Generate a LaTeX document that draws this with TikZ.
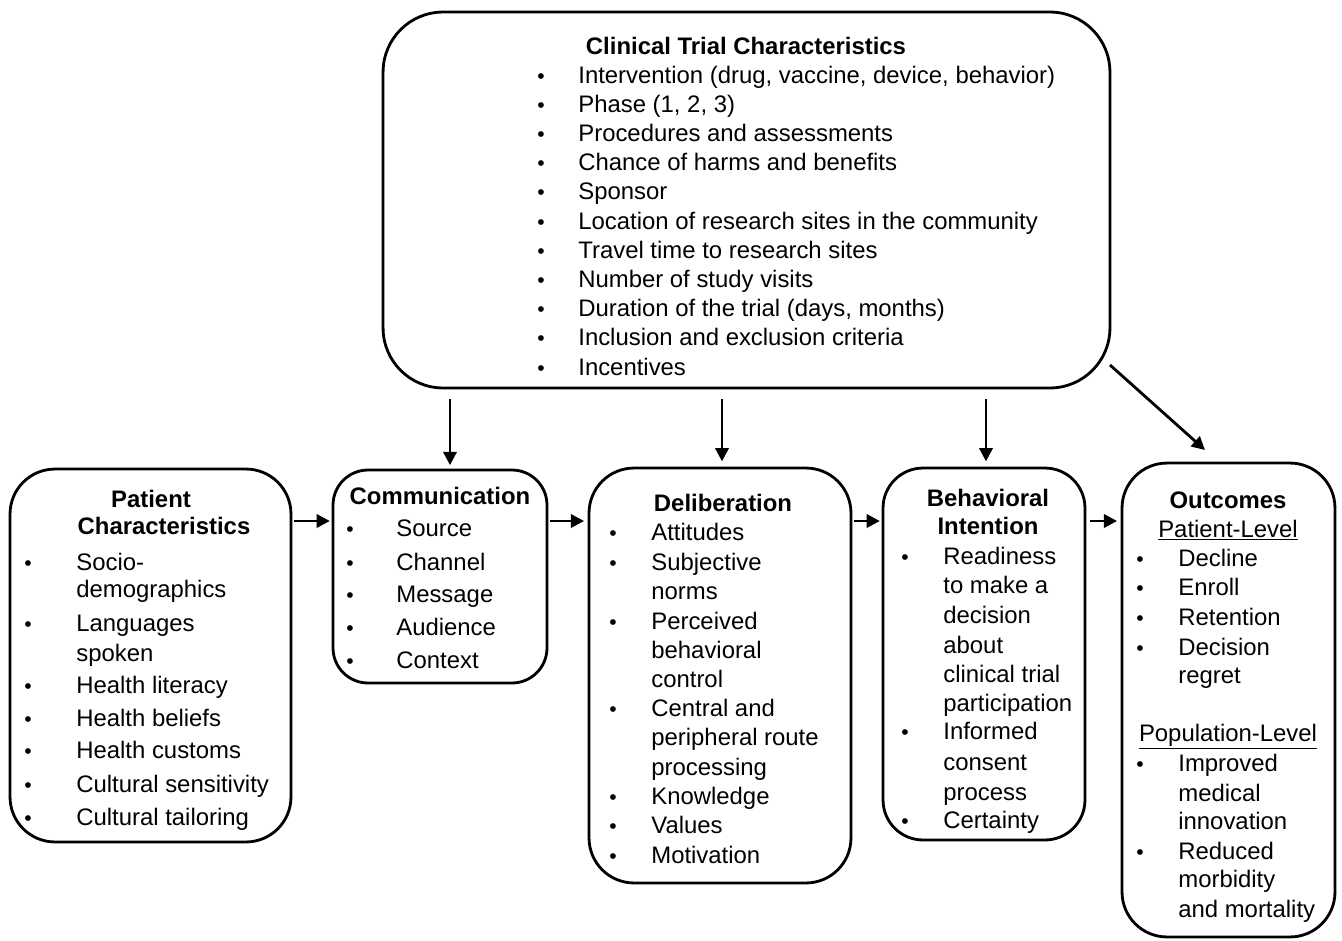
\documentclass[tikz,border=0pt]{standalone}
\usepackage{fontspec}
\setmainfont{Liberation Sans}
\usetikzlibrary{arrows.meta}

\begin{document}
\begin{tikzpicture}[x=0.02cm,y=-0.02cm,
        box/.style={draw,line width=1.6pt,inner sep=0pt},
        txt/.style={anchor=base west,inner sep=0pt,yshift=-0.04cm,font=\fontsize{13.6}{16}\selectfont},
        ttl/.style={anchor=base,inner sep=0pt,yshift=-0.04cm,font=\fontsize{13.6}{16}\selectfont\bfseries},
        bul/.style={anchor=base,inner sep=0pt,yshift=-0.04cm,font=\fontsize{12}{14}\selectfont},
        arr/.style={line width=1.6pt,-{Triangle[length=7.5pt,width=7.5pt]}}]
        \useasboundingbox (0,0) rectangle (1342,940);

        % boxes
        \node[box,rounded corners=12mm,minimum width=14.54cm,minimum height=7.52cm] (ct) at (746.5,200) {};
        \node[box,rounded corners=9mm,minimum width=5.62cm,minimum height=7.46cm] (pat) at (150.5,655.5) {};
        \node[box,rounded corners=7mm,minimum width=4.28cm,minimum height=4.26cm] (com) at (440,576.5) {};
        \node[box,rounded corners=9mm,minimum width=5.24cm,minimum height=8.3cm] (del) at (720,675.5) {};
        \node[box,rounded corners=8mm,minimum width=4.04cm,minimum height=7.44cm] (beh) at (984,654) {};
        \node[box,rounded corners=9mm,minimum width=4.26cm,minimum height=9.48cm] (out) at (1228.5,700) {};

        % clinical trial characteristics
        \node[ttl] (cttl) at (746,52) {Clinical Trial Characteristics};
        \foreach \t [count=\i] in {{Intervention (drug, vaccine, device, behavior)}, {Phase (1, 2, 3)},
            Procedures and assessments, Chance of harms and benefits, Sponsor,
            Location of research sites in the community, Travel time to research sites,
            Number of study visits, {Duration of the trial (days, months)},
            Inclusion and exclusion criteria, Incentives} {
            \node[bul] (ctb\i) at (541,81+29.2*\i-29.2) {\textbullet};
            \node[txt] (ct\i) at (578,81+29.2*\i-29.2) {\t};
        }

        % patient characteristics
        \node[ttl] (pttl1) at (151,505) {Patient};
        \node[ttl] (pttl2) at (164,532) {Characteristics};
        \foreach \y/\t in {568/Socio-, 595/demographics, 629/Languages, 659/spoken,
            691/Health literacy, 724/Health beliefs, 756/Health customs,
            790/Cultural sensitivity, 823/Cultural tailoring} {
            \node[txt] (pt\y) at (76,\y) {\t};
        }
        \foreach \y in {568,629,691,724,756,790,823} {
            \node[bul] (pb\y) at (28,\y) {\textbullet};
        }

        % communication
        \node[ttl] (cmttl) at (440,502) {Communication};
        \foreach \y/\t in {534/Source, 568/Channel, 600/Message, 633/Audience, 666/Context} {
            \node[bul] (cmb\y) at (350,\y) {\textbullet};
            \node[txt] (cm\y) at (396,\y) {\t};
        }

        % deliberation
        \node[ttl] (dlttl) at (723,509) {Deliberation};
        \foreach \y/\t in {538/Attitudes, 568/Subjective, 597/norms, 627/Perceived,
            656/behavioral, 685/control, 714/Central and, 743/peripheral route,
            773/processing, 802/Knowledge, 831/Values, 861/Motivation} {
            \node[txt] (dl\y) at (651,\y) {\t};
        }
        \foreach \y in {538,568,627,714,802,831,861} {
            \node[bul] (dlb\y) at (613,\y) {\textbullet};
        }

        % behavioral intention
        \node[ttl] (bittl1) at (988,504) {Behavioral};
        \node[ttl] (bittl2) at (988,532) {Intention};
        \foreach \y/\t in {562/Readiness, 591/to make a, 621/decision, 651/about,
            680/clinical trial, 709/participation, 737/Informed, 768/consent,
            798/process, 826/Certainty} {
            \node[txt] (bi\y) at (943,\y) {\t};
        }
        \foreach \y in {562,737,826} {
            \node[bul] (bib\y) at (905,\y) {\textbullet};
        }

        % outcomes
        \node[ttl] (octtl) at (1228,506) {Outcomes};
        \node[txt,anchor=base] (ocpat) at (1228,535) {\underline{Patient-Level}};
        \node[txt,anchor=base] (ocpop) at (1228,739) {\underline{Population-Level}};
        \foreach \y/\t in {564/Decline, 593/Enroll, 623/Retention, 653/Decision, 681/regret,
            769/Improved, 799/medical, 827/innovation, 857/Reduced, 885/morbidity,
            915/and mortality} {
            \node[txt] (oc\y) at (1178,\y) {\t};
        }
        \foreach \y in {564,593,623,653,769,857} {
            \node[bul] (ocb\y) at (1140,\y) {\textbullet};
        }

        % arrows
        \coordinate (row) at (0,521);
        \draw[arr,shorten <=1pt,shorten >=1pt] (pat.east |- row) -- (com.west |- row);
        \draw[arr,shorten <=1pt,shorten >=2pt] (com.east |- row) -- (del.west |- row);
        \draw[arr,shorten <=1pt,shorten >=1pt] (del.east |- row) -- (beh.west |- row);
        \draw[arr,shorten <=2pt,shorten >=2pt] (beh.east |- row) -- (out.west |- row);

        \coordinate (c1) at (450,0);
        \coordinate (c2) at (722,0);
        \coordinate (c3) at (986,0);
        \draw[arr,shorten <=5.7pt,shorten >=2pt] (ct.south -| c1) -- (com.north -| c1);
        \draw[arr,shorten <=5.7pt,shorten >=3pt] (ct.south -| c2) -- (del.north -| c2);
        \draw[arr,shorten <=5.7pt,shorten >=3pt] (ct.south -| c3) -- (beh.north -| c3);

        \coordinate (dgs) at (1110,365);
        \coordinate (dge) at (1205,450);
        \draw[arr] (dgs) -- (dge);
\end{tikzpicture}
\end{document}
